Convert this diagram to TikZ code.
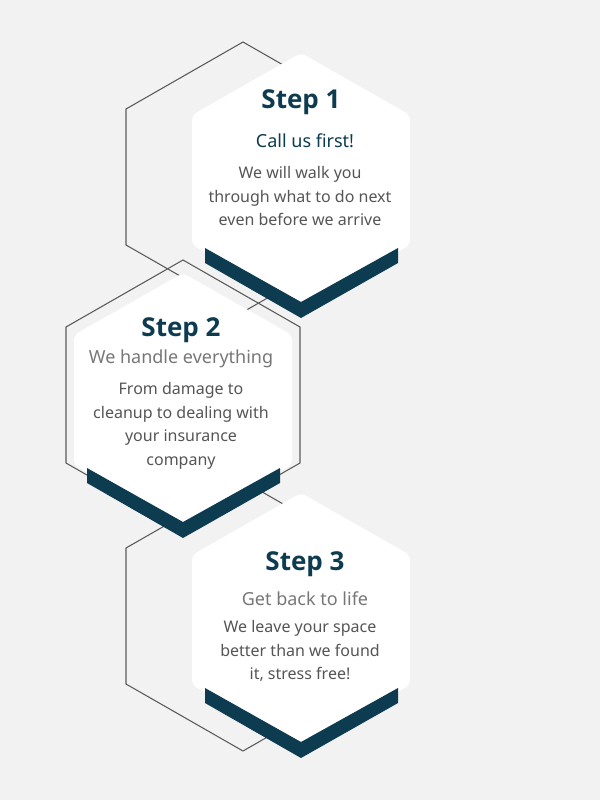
\documentclass[tikz,border=0pt]{standalone}
\usepackage{fontspec}
\setmainfont{Noto Sans}
\newfontfamily\headfont{Open Sans}
\definecolor{bg}{HTML}{F2F2F2}
\definecolor{teal}{HTML}{0D3B4F}
\definecolor{bodygray}{HTML}{555555}
\definecolor{subgray}{HTML}{777777}
\definecolor{linegray}{HTML}{5A5A5A}
\tikzset{
 outlinehex/.style={draw=linegray,line width=0.8pt},
 whitehex/.style={fill=white,rounded corners=4pt},
 band/.style={fill=teal},
 steptitle/.style={font=\headfont\bfseries\fontsize{19.5}{22}\selectfont,text=teal},
 subtitle/.style={font=\bfseries\fontsize{13.5}{16}\selectfont},
 bodytext/.style={font=\fontsize{12}{17.6}\selectfont,text=bodygray,align=center}
}
\begin{document}
\begin{tikzpicture}[x=0.75pt,y=-0.75pt]
\fill[bg] (0,0) rectangle (600,800);
\useasboundingbox (0,0) rectangle (600,800);
% outline hexagons
\foreach \dx/\dy in {0/0,-60/218,0/439}{
 \draw[outlinehex,shift={(\dx*0.75pt,-\dy*0.75pt)}] (243,42) -- (360,109) -- (360,245) -- (243,312) -- (126,245) -- (126,109) -- cycle;
}
% white hexagons with bands
\foreach \dx/\dy in {0/0,-118/220,0/440}{
 \begin{scope}[shift={(\dx*0.75pt,-\dy*0.75pt)}]
 \fill[whitehex] (301,53) -- (410,115) -- (410,245) -- (301,307) -- (192,245) -- (192,115) -- cycle;
 \fill[band] (205,248) -- (301,302) -- (398,248) -- (398,263) -- (301,318) -- (205,263) -- cycle;
 \end{scope}
}
% texts
\node[steptitle] (s1) at (301,102) {Step 1};
\node[subtitle,text=teal] (t1) at (305,141) {Call us first!};
\node[bodytext] (b1) at (300,196) {We will walk you\\through what to do next\\even before we arrive};
\node[steptitle] (s2) at (181,330) {Step 2};
\node[subtitle,text=subgray] (t2) at (181,359) {We handle everything};
\node[bodytext] (b2) at (181,426) {From damage to\\cleanup to dealing with\\your insurance\\company};
\node[steptitle] (s3) at (305,564) {Step 3};
\node[subtitle,text=subgray] (t3) at (305,599) {Get back to life};
\node[bodytext] (b3) at (300,651) {We leave your space\\better than we found\\it, stress free!};
\end{tikzpicture}
\end{document}
